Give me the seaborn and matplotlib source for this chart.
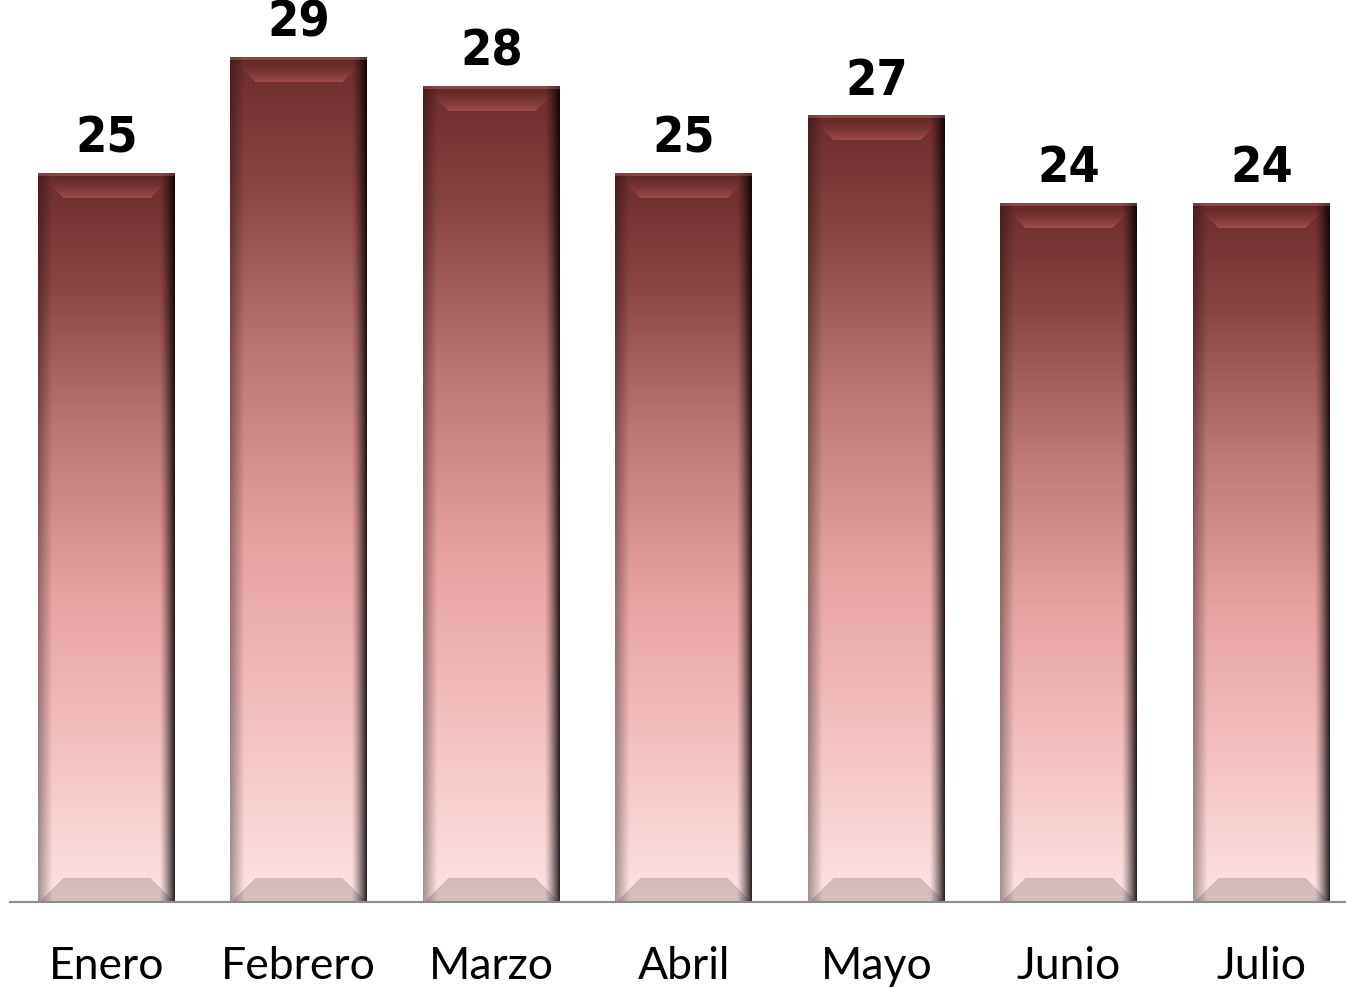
import numpy as np
import pandas as pd
import seaborn as sns
import matplotlib.pyplot as plt
from matplotlib.colors import LinearSegmentedColormap, to_rgb

meses = ['Enero', 'Febrero', 'Marzo', 'Abril', 'Mayo', 'Junio', 'Julio']
valores = [25, 29, 28, 25, 27, 24, 24]

df = pd.DataFrame({'mes': meses, 'valor': valores})

sns.set_style('white')
fig = plt.figure(figsize=(13.46, 9.88), dpi=100)
ax = fig.add_axes([10 / 1346, 86 / 988, 1 - 10 / 1346, 902 / 988])

sns.barplot(data=df, x='mes', y='valor', color='#c07a7a', width=0.71, ax=ax)
ax.set_ylim(0, 30.97)
ax.set_xlim(-0.5, 6.44)

# gradient from dark maroon at the top to pale pink at the bottom
grad = LinearSegmentedColormap.from_list('grad', [
    (0.0, '#6e2c2c'), (0.15, '#8a4444'), (0.35, '#bd7676'),
    (0.58, '#e8a2a2'), (0.78, '#f2c0c0'), (1.0, '#fde3e3')])

fig.canvas.draw()
for p in ax.patches:
    x0, y0 = p.get_x(), p.get_y()
    w, h = p.get_width(), p.get_height()
    (px0, py0), (px1, py1) = ax.transData.transform([(x0, y0), (x0 + w, y0 + h)])
    W, H = int(round(px1 - px0)), int(round(py1 - py0))
    yy = np.linspace(0, 1, H)[:, None] * np.ones((1, W))
    img = grad(yy)[:, :, :3]
    xs = np.arange(W)[None, :] * np.ones((H, 1))
    ys = np.arange(H)[:, None] * np.ones((1, W))
    # horizontal shading: darker edges, strongest on the right
    r = np.arange(W)
    fx = 1 - 0.9 * np.clip((r - (W - 16)) / 16, 0, 1) ** 1.3
    fx *= 1 - 0.35 * np.clip((14 - r) / 14, 0, 1)
    img = img * fx[None, :, None]
    # bevels at top and bottom
    bev = 25
    top = (ys < bev) & (xs > ys) & (xs < W - ys)
    t = (ys / bev)[top][:, None]
    img[top] = img[top] * (0.9 + 0.1 * t) + np.array(to_rgb('#c07070')) * 0.25 * t ** 2
    bot = (ys > H - bev) & (xs > (H - ys)) & (xs < W - (H - ys))
    img[bot] = img[bot] * 0.84
    edge = ys < 3
    img[edge] = img[edge] * 0.7 + np.array(to_rgb('#d89090')) * 0.3
    img = np.clip(img, 0, 1)
    ax.imshow(img, extent=(x0, x0 + w, y0, y0 + h), aspect='auto',
              interpolation='bilinear', zorder=3)
    p.set_visible(False)
    ax.text(x0 + w / 2, y0 + h + 0.72, f'{int(round(h))}', ha='center', va='baseline',
            fontsize=36, fontweight='bold', fontstretch='condensed',
            family=['DejaVu Sans'], color='black', zorder=4)

ax.set_ylim(0, 30.97)
ax.set_xlim(-0.5, 6.44)
ax.set_xlabel('')
ax.set_ylabel('')
ax.set_yticks([])
ax.tick_params(axis='x', length=0, pad=32)
for lbl in ax.get_xticklabels():
    lbl.set_fontsize(32)
    lbl.set_family(['Lato', 'DejaVu Sans'])
    lbl.set_color('black')
for s in ['top', 'left', 'right']:
    ax.spines[s].set_visible(False)
ax.spines['bottom'].set_color('#8c8c8c')
ax.spines['bottom'].set_linewidth(1.5)
ax.spines['bottom'].set_zorder(5)

fig.savefig('out.png', dpi=100)
